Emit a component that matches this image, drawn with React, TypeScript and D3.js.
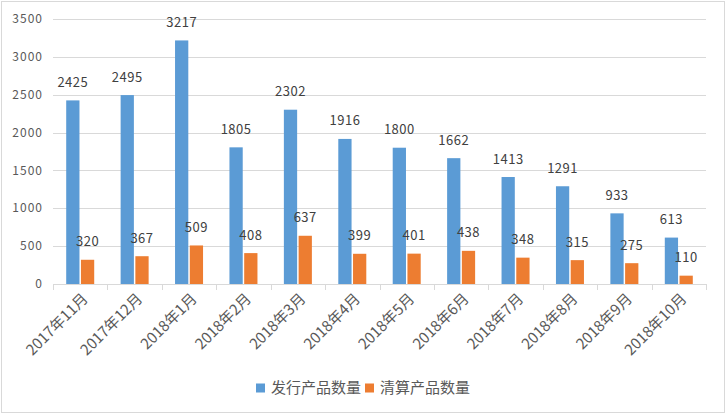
import React, { useEffect, useRef } from "react";
import * as d3 from "d3";

const months = [
  "2017年11月", "2017年12月", "2018年1月", "2018年2月", "2018年3月", "2018年4月",
  "2018年5月", "2018年6月", "2018年7月", "2018年8月", "2018年9月", "2018年10月",
];
const issued = [2425, 2495, 3217, 1805, 2302, 1916, 1800, 1662, 1413, 1291, 933, 613];
const settled = [320, 367, 509, 408, 637, 399, 401, 438, 348, 315, 275, 110];
const seriesNames = ["发行产品数量", "清算产品数量"];
const colors = ["#5b9bd5", "#ed7d31"];
const yTicks = [0, 500, 1000, 1500, 2000, 2500, 3000, 3500];

const W = 726;
const H = 414;
const FONT = "'Noto Sans CJK SC', 'DejaVu Sans', sans-serif";

export default function App() {
  const ref = useRef<SVGSVGElement>(null);

  useEffect(() => {
    const svg = d3.select(ref.current);
    svg.selectAll("*").remove();

    const left = 53, right = 706, top = 19, bottom = 284;

    const x = d3.scaleBand().domain(months).range([left, right]).paddingInner(0).paddingOuter(0);
    const inner = d3.scaleBand().domain(["0", "1"]).range([-14, 14]).paddingInner(0.1);
    const y = d3.scaleLinear().domain([0, 3500]).range([bottom, top]);

    svg.append("rect")
      .attr("x", 1.5).attr("y", 1.5)
      .attr("width", W - 3).attr("height", H - 3)
      .attr("fill", "#fff").attr("stroke", "#d9d9d9");

    // grid
    svg.append("g")
      .selectAll("line")
      .data(yTicks.slice(1))
      .enter()
      .append("line")
      .attr("x1", left).attr("x2", right)
      .attr("y1", d => Math.round(y(d)) + 0.5).attr("y2", d => Math.round(y(d)) + 0.5)
      .attr("stroke", "#d9d9d9");

    svg.append("g")
      .selectAll("text")
      .data(yTicks)
      .enter()
      .append("text")
      .attr("x", 43).attr("y", d => y(d))
      .attr("dy", "0.35em")
      .attr("text-anchor", "end")
      .attr("font-size", 12).attr("font-family", FONT)
      .attr("letter-spacing", 1)
      .attr("fill", "#595959")
      .text(d => d);

    const series = [issued, settled];
    series.forEach((vals, si) => {
      const g = svg.append("g");
      g.selectAll("rect")
        .data(vals)
        .enter()
        .append("rect")
        .attr("x", (d, i) => (x(months[i]) as number) + x.bandwidth() / 2 + (inner(String(si)) as number))
        .attr("width", inner.bandwidth())
        .attr("y", d => y(d))
        .attr("height", d => bottom - y(d))
        .attr("fill", colors[si]);
      g.selectAll("text")
        .data(vals)
        .enter()
        .append("text")
        .attr("x", (d, i) => (x(months[i]) as number) + x.bandwidth() / 2 + (inner(String(si)) as number) + inner.bandwidth() / 2)
        .attr("y", d => y(d) - 18)
        .attr("dy", "0.35em")
        .attr("text-anchor", "middle")
        .attr("font-size", 13).attr("font-family", FONT)
        .attr("letter-spacing", 0.5)
        .attr("fill", "#404040")
        .text(d => d);
    });

    // x axis
    const axis = svg.append("g");
    axis.append("line")
      .attr("x1", left).attr("x2", right)
      .attr("y1", bottom + 0.5).attr("y2", bottom + 0.5)
      .attr("stroke", "#d9d9d9");
    axis.selectAll("line.tick")
      .data(d3.range(months.length + 1))
      .enter()
      .append("line")
      .attr("class", "tick")
      .attr("x1", i => Math.round(left + i * x.step()) + 0.5)
      .attr("x2", i => Math.round(left + i * x.step()) + 0.5)
      .attr("y1", bottom).attr("y2", bottom + 6)
      .attr("stroke", "#d9d9d9");
    axis.selectAll("text")
      .data(months)
      .enter()
      .append("text")
      .attr("transform", d => "translate(" + ((x(d) as number) + x.bandwidth() / 2 + 5) + "," + (bottom + 12) + ") rotate(-45)")
      .attr("dy", "0.35em")
      .attr("text-anchor", "end")
      .attr("font-size", 15).attr("font-family", FONT)
      .attr("fill", "#595959")
      .text(d => d);

    // legend
    const legend = svg.append("g").attr("transform", "translate(256,388)");
    const lx = [0, 109];
    seriesNames.forEach((name, i) => {
      legend.append("rect")
        .attr("x", lx[i]).attr("y", -4.5)
        .attr("width", 9).attr("height", 9)
        .attr("fill", colors[i]);
      legend.append("text")
        .attr("x", lx[i] + 15).attr("y", 0)
        .attr("dy", "0.35em")
        .attr("font-size", 15).attr("font-family", FONT)
        .attr("fill", "#595959")
        .text(name);
    });
  }, []);

  return (
    <svg ref={ref} width={W} height={H} style={{ display: "block", position: "absolute", left: 0, top: 0 }} />
  );
}
